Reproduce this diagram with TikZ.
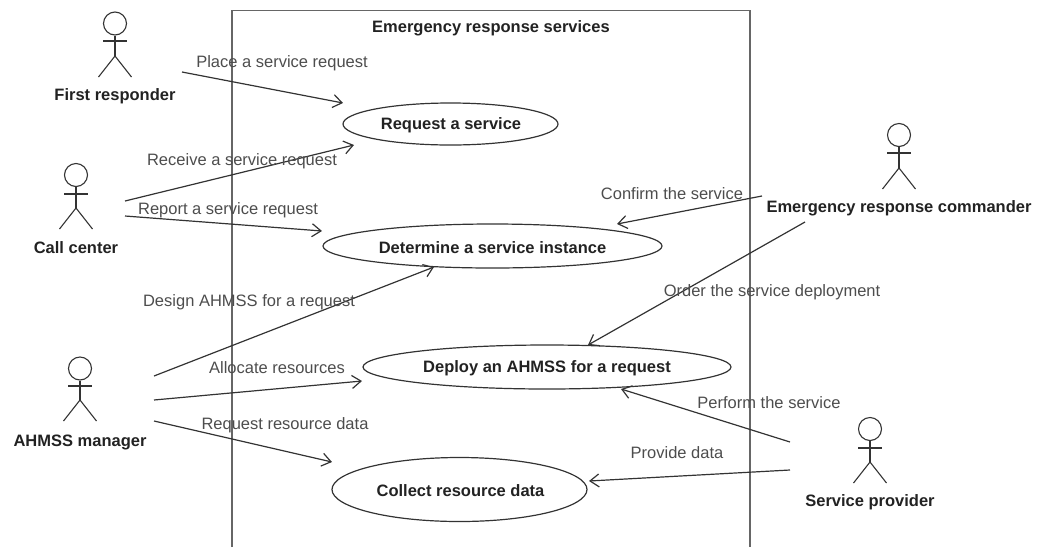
\documentclass[tikz,border=0pt]{standalone}
\usepackage{fontspec}
\setmainfont{Liberation Sans}
\usetikzlibrary{arrows.meta,shapes.geometric}
\definecolor{linec}{HTML}{333333}
\definecolor{framec}{HTML}{666666}
\definecolor{labelc}{HTML}{4D4D4D}
\definecolor{namec}{HTML}{222222}
\tikzset{
  usecase/.style={draw=linec,line width=1.2pt,ellipse,inner sep=0pt,minimum width=#1},
  boldtext/.style={font=\fontsize{16.5}{18}\selectfont\bfseries,text=namec,inner sep=0pt},
  nametext/.style={boldtext,yshift=-1.5pt},
  linktext/.style={font=\fontsize{16.5}{18}\selectfont,text=labelc,inner sep=0pt,yshift=-1.5pt},
  link/.style={draw=linec,line width=1.2pt,-{Straight Barb[length=9pt,width=13pt,line width=1.2pt]}},
  limb/.style={draw=linec,line width=1.1pt},
  head/.style={draw=linec,line width=1.1pt,circle,minimum size=23pt,inner sep=0pt}
}
\newcommand{\actorfig}[5]{% name, x, head y, arm y, hip y (feet = hip+21)
  \node[head] (#1) at (#2,#3) {};
  \coordinate (#1hip) at (#2,#5);
  \draw[limb] (#1.south) -- (#1hip);
  \draw[limb] (#2-12,#4) -- (#2+12,#4);
  \draw[limb] (#2-16.5,#5+21) -- (#1hip) -- (#2+16.5,#5+21);
}
\begin{document}
\begin{tikzpicture}[x=1pt,y=-1pt]
\useasboundingbox (0,0) rectangle (1046,547);
\draw[framec,line width=1.8pt] (232,547) -- (232,10.5) -- (750,10.5) -- (750,547);
\node[nametext] (title) at (491,26.5) {Emergency response services};
\node[usecase=215pt,minimum height=42pt] (uc1) at (450.5,124) {};
\node[usecase=339pt,minimum height=44pt] (uc2) at (492.5,246) {};
\node[usecase=368pt,minimum height=44pt] (uc3) at (547,367) {};
\node[usecase=255pt,minimum height=64pt] (uc4) at (459.5,489.5) {};
\node[nametext] (t1) at (451,124) {Request a service};
\node[nametext] (t2) at (492.5,246) {Determine a service instance};
\node[nametext] (t3) at (547,367) {Deploy an AHMSS for a request};
\node[nametext] (t4) at (460.5,489.5) {Collect resource data};
\actorfig{a1}{115}{23.5}{41}{56}
\actorfig{a2}{76}{175}{194}{208}
\actorfig{a3}{80}{368.5}{386}{400}
\actorfig{a4}{899}{135}{153}{168}
\actorfig{a5}{870}{429}{448}{462}
\node[nametext] (n1) at (115,95) {First responder};
\node[nametext] (n2) at (76,246.5) {Call center};
\node[nametext] (n3) at (80,441) {AHMSS manager};
\node[nametext] (n4) at (899,206.5) {Emergency response commander};
\node[nametext] (n5) at (870,501) {Service provider};
\coordinate (s1) at (182,72);   \coordinate (e1) at (343,103);
\coordinate (s2) at (125,201);  \coordinate (e2) at (354,145);
\coordinate (s3) at (125,216);  \coordinate (e3) at (322,231);
\coordinate (s4) at (154,376);  \coordinate (e4) at (434,267);
\coordinate (s5) at (154,400);  \coordinate (e5) at (362,381);
\coordinate (s6) at (154,421);  \coordinate (e6) at (332,462);
\coordinate (s7) at (762,196);  \coordinate (e7) at (617,224);
\coordinate (s8) at (805,222);  \coordinate (e8) at (588,345);
\coordinate (s9) at (790,442);  \coordinate (e9) at (621,389);
\coordinate (s10) at (790,470); \coordinate (e10) at (589,481);
\draw[link] (s1) -- (e1);
\draw[link] (s2) -- (e2);
\draw[link] (s3) -- (e3);
\draw[link] (s4) -- (e4);
\draw[link] (s5) -- (e5);
\draw[link] (s6) -- (e6);
\draw[link] (s7) -- (e7);
\draw[link] (s8) -- (e8);
\draw[link] (s9) -- (e9);
\draw[link] (s10) -- (e10);
\node[linktext] (l1) at (282,61.5) {Place a service request};
\node[linktext] (l2) at (242,159.5) {Receive a service request};
\node[linktext] (l3) at (228,209) {Report a service request};
\node[linktext] (l4) at (249,300.5) {Design AHMSS for a request};
\node[linktext] (l5) at (277,366) {Allocate resources};
\node[linktext] (l6) at (285,423.5) {Request resource data};
\node[linktext] (l7) at (672,192.5) {Confirm the service};
\node[linktext] (l8) at (772,291) {Order the service deployment};
\node[linktext] (l9) at (769,401) {Perform the service};
\node[linktext] (l10) at (677,451) {Provide data};
\end{tikzpicture}
\end{document}
